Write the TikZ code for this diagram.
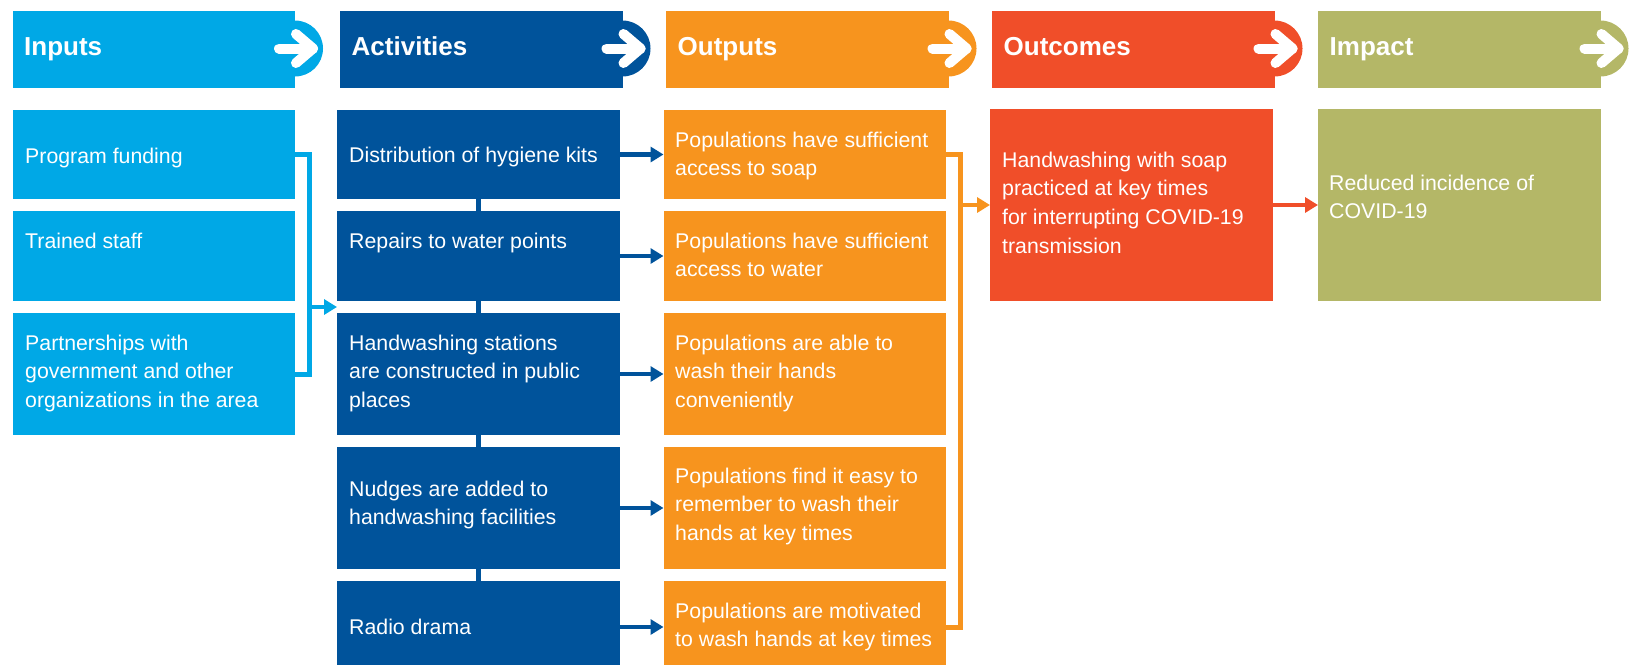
\documentclass[tikz,border=0pt]{standalone}
\usepackage{fontspec}
\setmainfont{Liberation Sans}
\usetikzlibrary{arrows.meta,backgrounds}
\definecolor{cin}{RGB}{0,168,230}
\definecolor{cact}{RGB}{0,83,155}
\definecolor{cout}{RGB}{247,148,30}
\definecolor{coc}{RGB}{240,78,41}
\definecolor{cim}{RGB}{180,183,103}
\newcommand{\ml}[1]{\begin{tabular}[t]{@{}l@{}}#1\end{tabular}}
\tikzset{
  boxnode/.style={rectangle, inner sep=0pt, outer sep=0pt, minimum width=282.5pt, minimum height=#1, anchor=north west},
  hdrnode/.style={rectangle, inner sep=0pt, outer sep=0pt, minimum width=282.5pt, minimum height=77pt, anchor=north west},
  txt/.style={inner sep=0pt, text=white, anchor=base west, font=\fontsize{21.3}{28.7}\selectfont},
  htxt/.style={inner sep=0pt, text=white, anchor=base west, font=\fontsize{26}{30}\selectfont\bfseries},
  harrow/.style={draw=white, line width=10pt, line cap=round, line join=round},
  conn/.style={line width=5pt},
  arr/.style={line width=4.5pt, -{Triangle[length=13pt,width=15pt]}}
}
\begin{document}
\begin{tikzpicture}[x=1pt,y=-1pt]
\useasboundingbox (0,0) rectangle (1629,664);
\clip (0,0) rectangle (1629,664);

% header row
\foreach \n/\x/\c/\t in {1/12.5/cin/Inputs, 2/340/cact/Activities, 3/666/cout/Outputs, 4/992/coc/Outcomes, 5/1318/cim/Impact}{
  \node[hdrnode, fill=\c] (h\n) at (\x,11) {};
  \fill[\c] ([yshift=1pt]h\n.east) circle[radius=28pt];
  \draw[harrow] ([xshift=-16pt,yshift=1pt]h\n.east) -- ([xshift=18pt,yshift=1pt]h\n.east);
  \draw[harrow] ([xshift=1pt,yshift=15.5pt]h\n.east) -- ([xshift=18pt,yshift=1pt]h\n.east) -- ([xshift=1pt,yshift=-13.5pt]h\n.east);
  \node[htxt] (h\n t) at (\x+11.5,55) {\t};
}

% inputs
\node[boxnode=89pt, fill=cin] (i1) at (12.5,110) {};
\node[boxnode=90pt, fill=cin] (i2) at (12.5,211) {};
\node[boxnode=122pt, fill=cin] (i3) at (12.5,313) {};
\node[txt] (i1t) at (25,163) {Program funding};
\node[txt] (i2t) at (25,248) {Trained staff};
\node[txt] (i3t) at (25,350) {\ml{Partnerships with\\government and other\\organizations in the area}};

% activities
\node[boxnode=89pt, fill=cact] (a1) at (337,110) {};
\node[boxnode=90pt, fill=cact] (a2) at (337,211) {};
\node[boxnode=122pt, fill=cact] (a3) at (337,313) {};
\node[boxnode=122pt, fill=cact] (a4) at (337,447) {};
\node[boxnode=92pt, fill=cact] (a5) at (337,581) {};
\node[txt] (a1t) at (349,162) {Distribution of hygiene kits};
\node[txt] (a2t) at (349,248) {Repairs to water points};
\node[txt] (a3t) at (349,350) {\ml{Handwashing stations\\are constructed in public\\places}};
\node[txt] (a4t) at (349,496) {\ml{Nudges are added to\\handwashing facilities}};
\node[txt] (a5t) at (349,634) {Radio drama};

% outputs
\node[boxnode=89pt, fill=cout] (o1) at (663.5,110) {};
\node[boxnode=90pt, fill=cout] (o2) at (663.5,211) {};
\node[boxnode=122pt, fill=cout] (o3) at (663.5,313) {};
\node[boxnode=122pt, fill=cout] (o4) at (663.5,447) {};
\node[boxnode=92pt, fill=cout] (o5) at (663.5,581) {};
\node[txt] (o1t) at (675,147) {\ml{Populations have sufficient\\access to soap}};
\node[txt] (o2t) at (675,248) {\ml{Populations have sufficient\\access to water}};
\node[txt] (o3t) at (675,350) {\ml{Populations are able to\\wash their hands\\conveniently}};
\node[txt] (o4t) at (675,483) {\ml{Populations find it easy to\\remember to wash their\\hands at key times}};
\node[txt] (o5t) at (675,618) {\ml{Populations are motivated\\to wash hands at key times}};

% outcomes and impact
\node[boxnode=192pt, fill=coc] (oc) at (990,109) {};
\node[txt] (oct) at (1002,167) {\ml{Handwashing with soap\\practiced at key times\\for interrupting COVID-19\\transmission}};
\node[boxnode=192pt, fill=cim] (im) at (1318,109) {};
\node[txt] (imt) at (1329,190) {\ml{Reduced incidence of\\COVID-19}};

% connectors
\begin{scope}[on background layer]
  \draw[conn, cact] (a1.center) -- (a5.center);
\end{scope}
\coordinate (jin) at (309.5,307);
\coordinate (ain) at (337,307);
\draw[conn, cin] (i1.east) -| (jin) |- (i3.east);
\draw[arr, cin] (jin) -- (ain);

\foreach \k in {1,...,5}{
  \draw[arr, cact] (a\k) -- (o\k);
}

\coordinate (jout) at (960.5,205);
\draw[conn, cout] (o1.east) -| (jout) |- (o5.east);
\draw[arr, cout] (jout) -- (oc);
\draw[arr, coc] (oc) -- (im);
\end{tikzpicture}
\end{document}
